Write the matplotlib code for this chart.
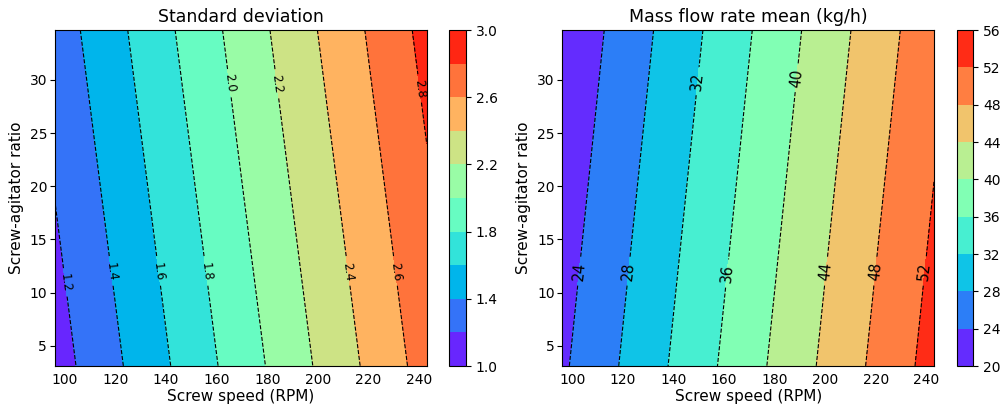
"""Dos mapas de contorno (desviación estándar y caudal másico medio) frente a
velocidad de tornillo y relación tornillo-agitador."""

import matplotlib
matplotlib.use("Agg")
import matplotlib.pyplot as plt
import numpy as np

# --- Datos --------------------------------------------------------------------
# rejilla: velocidad del tornillo (RPM) x relación tornillo-agitador
velocidad = [96, 243]
relacion = [3.1, 34.7]

# desviación estándar en las esquinas (filas = relación, columnas = velocidad)
sd_tabla = [[1.110, 2.681],
            [1.292, 2.861]]
sd_niveles = [1.0, 1.2, 1.4, 1.6, 1.8, 2.0, 2.2, 2.4, 2.6, 2.8, 3.0]
sd_ticks = [1.0, 1.4, 1.8, 2.2, 2.6, 3.0]

# caudal másico medio (kg/h)
caudal_tabla = [[23.43, 53.54],
                [20.60, 50.73]]
caudal_niveles = [20, 24, 28, 32, 36, 40, 44, 48, 52, 56]

# --- Figura -------------------------------------------------------------------
fig = plt.figure(figsize=(10.06, 4.07), dpi=100)

H = 407
W = 1006


def caja(x0, x1, top=30, bottom=366):
    return [x0 / W, (H - bottom) / H, (x1 - x0) / W, (bottom - top) / H]


ax1 = fig.add_axes(caja(54.7, 426.7))
cax1 = fig.add_axes(caja(449.3, 466))
ax2 = fig.add_axes(caja(562.3, 934))
cax2 = fig.add_axes(caja(957.3, 973.3))

X, Y = np.meshgrid(velocidad, relacion)

# panel izquierdo
cf1 = ax1.contourf(X, Y, np.array(sd_tabla), levels=sd_niveles, cmap="rainbow")
cs1 = ax1.contour(X, Y, np.array(sd_tabla), levels=sd_niveles, colors="k",
                  linestyles="dashed", linewidths=0.8)
ax1.clabel(cs1, fmt="%.1f", fontsize=8.5, colors="k",
           manual=[(101.4, 11.0), (119.0, 12.0), (137.3, 12.0), (156.2, 12.0),
                   (165.1, 29.7), (183.6, 29.6), (212.2, 12.0), (231.1, 12.0),
                   (240.0, 29.2)])
ax1.set_title("Standard deviation", fontsize=12.5)
cb1 = fig.colorbar(cf1, cax=cax1, ticks=sd_ticks)
cb1.ax.set_yticklabels([f"{t:.1f}" for t in sd_ticks])

# panel derecho
cf2 = ax2.contourf(X, Y, np.array(caudal_tabla), levels=caudal_niveles, cmap="rainbow")
cs2 = ax2.contour(X, Y, np.array(caudal_tabla), levels=caudal_niveles, colors="k",
                  linestyles="dashed", linewidths=0.8)
ax2.clabel(cs2, fmt="%d", fontsize=10.5, colors="k",
           manual=[(102.7, 12.0), (122.1, 12.0), (149.5, 29.9), (161.1, 11.8),
                   (188.6, 30.2), (200.1, 12.0), (219.5, 12.0), (239.0, 12.0)])
ax2.set_title("Mass flow rate mean (kg/h)", fontsize=12.5)
fig.colorbar(cf2, cax=cax2, ticks=caudal_niveles)

for ax in (ax1, ax2):
    ax.set_xlabel("Screw speed (RPM)", fontsize=11, labelpad=1.5)
    ax.set_ylabel("Screw-agitator ratio", fontsize=11, labelpad=4)
    ax.set_xticks([100, 120, 140, 160, 180, 200, 220, 240])
    ax.set_yticks([5, 10, 15, 20, 25, 30])
    ax.tick_params(labelsize=10)
    ax.tick_params(axis="x", length=0, pad=5)
    ax.tick_params(axis="y", pad=2)

fig.savefig("out.png", dpi=100)
